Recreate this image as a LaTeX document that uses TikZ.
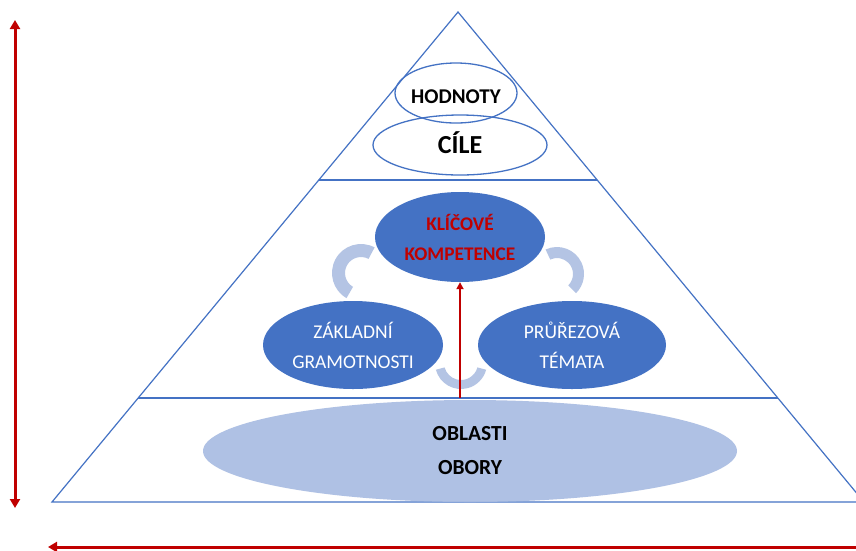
\documentclass[tikz,border=0pt]{standalone}
\usepackage{fontspec}
\setmainfont{Carlito}
\usetikzlibrary{shapes.geometric,arrows.meta,calc}
\definecolor{triblue}{HTML}{4472C4}
\definecolor{ellblue}{HTML}{4472C4}
\definecolor{lightfill}{HTML}{A9BCE2}
\definecolor{arcblue}{HTML}{B4C4E4}
\definecolor{darkred}{HTML}{C00000}
\begin{document}
\begin{tikzpicture}[x=1pt,y=-1pt,
  outl/.style={ellipse,draw=triblue,line width=1.3pt,inner sep=0pt},
  toplabel/.style={anchor=base,inner sep=0pt,text=black},
  filledell/.style={ellipse,fill=ellblue,inner sep=0pt,text=white,align=center},
  tri/.style={draw=triblue,line width=1.2pt},
  redarrow/.style={draw=darkred,line width=3pt,-{Triangle[width=10pt,length=9pt]}},
  band/.style={fill=arcblue}]
\useasboundingbox (0,0) rectangle (856,550);
\fill[white] (0,0) rectangle (856,550);
% triangle
\coordinate (apex) at (458,12);
\coordinate (bl) at (52,502);
\coordinate (br) at (864,502);
\coordinate (l1) at (318.8,180);
\coordinate (r1) at (597.2,180);
\coordinate (l2) at (138.2,398);
\coordinate (r2) at (777.8,398);
\draw[tri,line join=miter] (apex) -- (bl) -- (br) -- cycle;
\draw[tri] (l1) -- (r1);
\draw[tri] (l2) -- (r2);
% bottom ellipse
\node[ellipse,fill=lightfill,fill opacity=0.92,text opacity=1,inner sep=0pt,minimum width=534pt,minimum height=102pt,align=center,font=\bfseries\fontsize{21.5}{34}\selectfont] (oo) at (470,451) {OBLASTI\\OBORY};
% top ellipses
\node[outl,minimum width=122pt,minimum height=60pt] (hod) at (456,93) {};
\node[toplabel,font=\bfseries\fontsize{21}{24}\selectfont] (hodt) at (456,103.8) {HODNOTY};
\node[outl,minimum width=174pt,minimum height=60pt] (cile) at (460,145) {};
\node[toplabel,font=\bfseries\fontsize{26}{30}\selectfont] (cilet) at (460,153.9) {CÍLE};
% middle ellipses
\node[filledell,text=darkred,minimum width=170pt,minimum height=90pt,font=\bfseries\fontsize{19.3}{30}\selectfont] (kk) at (460,237) {KLÍČOVÉ\\KOMPETENCE};
\node[filledell,minimum width=180pt,minimum height=88pt,font=\fontsize{19.5}{30}\selectfont] (zg) at (353,345) {ZÁKLADNÍ\\GRAMOTNOSTI};
\node[filledell,minimum width=188pt,minimum height=88pt,font=\fontsize{19.5}{30}\selectfont] (pt) at (572,345) {PRŮŘEZOVÁ\\TÉMATA};
% curved bands
\coordinate (cl) at (361,273);
\coordinate (cr) at (557,274);
\coordinate (cb) at (461,363);
\fill[band] (cl) ++(-62:29) arc[start angle=-62,end angle=-240,radius=29] -- ($(cl)+(-240:16)$) arc[start angle=-240,end angle=-62,radius=16] -- cycle;
\fill[band] (cr) ++(-115:27) arc[start angle=-115,end angle=45,radius=27] -- ($(cr)+(45:16)$) arc[start angle=45,end angle=-115,radius=16] -- cycle;
\fill[band] (cb) ++(165:26) arc[start angle=165,end angle=15,radius=26] -- ($(cb)+(15:17)$) arc[start angle=15,end angle=165,radius=17] -- cycle;
% middle red arrow
\coordinate (mid0) at (460,398);
\draw[draw=darkred,line width=2pt,-{Triangle[width=7pt,length=7pt]}] (mid0) -- (kk.south);
% outer arrows
\coordinate (vt) at (15,20);
\coordinate (vb) at (15,508);
\draw[draw=darkred,line width=3pt,{Triangle[width=10pt,length=9pt]}-{Triangle[width=10pt,length=9pt]}] (vt) -- (vb);
\coordinate (hr) at (870,547);
\coordinate (hl) at (48,547);
\draw[redarrow] (hr) -- (hl);
\end{tikzpicture}
\end{document}
